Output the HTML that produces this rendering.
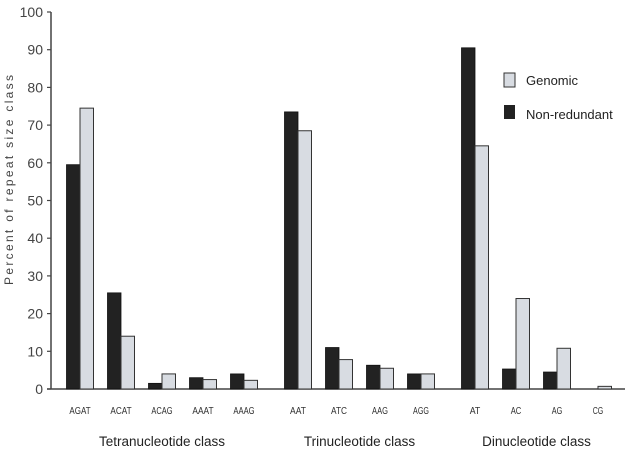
<!DOCTYPE html>
<html><head><meta charset="utf-8"><style>
body{margin:0;background:#fff;}
svg{display:block;font-family:"Liberation Sans",sans-serif;}
</style></head><body>
<svg id="chart" width="629" height="452"></svg>
<script>
const categories=["AGAT","ACAT","ACAG","AAAT","AAAG","AAT","ATC","AAG","AGG","AT","AC","AG","CG"];
const groupOf=[0,0,0,0,0,1,1,1,1,2,2,2,2];
const groupNames=["Tetranucleotide class","Trinucleotide class","Dinucleotide class"];
const nonRedundant=[59.5,25.5,1.5,3,4,73.5,11,6.3,4,90.5,5.3,4.5,0];
const genomic=[74.5,14,4,2.5,2.3,68.5,7.8,5.5,4,64.5,24,10.8,0.7];
const yTicks=[0,10,20,30,40,50,60,70,80,90,100];
const NS="http://www.w3.org/2000/svg";
const svg=document.getElementById('chart');
function y(v){return 389-v*3.77;}
function xc(i){return 80+41*i+13*groupOf[i];}
function mk(t,a,txt){const e=document.createElementNS(NS,t);for(const k in a)e.setAttribute(k,a[k]);if(txt!==undefined)e.textContent=txt;svg.appendChild(e);return e;}
let e;
e=mk('line',{x1:51,y1:y(100),x2:51,y2:y(0),stroke:'#444','stroke-width':1.5});


e=mk('line',{x1:47,y1:y(0),x2:625,y2:y(0),stroke:'#444','stroke-width':1.5});


yTicks.forEach(t=>{
 e=mk('line',{x1:47,y1:y(t),x2:51,y2:y(t),stroke:'#444','stroke-width':1.2});
 
 
 e=mk('text',{x:43,y:y(t)+5,'text-anchor':'end','font-size':14,fill:'#444'},t);
 
 
});
e=mk('text',{x:13,y:180,'text-anchor':'middle','font-size':12,fill:'#444',textLength:210,lengthAdjust:'spacing',transform:'rotate(-90 13 180)'},'Percent of repeat size class');


const bw=13.5;
categories.forEach((c,i)=>{
 const cx=xc(i);
 if(nonRedundant[i]>0){
  e=mk('rect',{x:cx-bw,y:y(nonRedundant[i]),width:bw,height:y(0)-y(nonRedundant[i]),fill:'#222',stroke:'#111','stroke-width':0.8});
  
  
 }
 e=mk('rect',{x:cx,y:y(genomic[i]),width:bw,height:y(0)-y(genomic[i]),fill:'#d8dce2',stroke:'#333','stroke-width':1});
 
 
 e=mk('text',{x:cx,y:414,'text-anchor':'middle','font-size':10,fill:'#333',textLength:c.length*5.3,lengthAdjust:'spacingAndGlyphs'},c);
 
 
});
groupNames.forEach((g,gi)=>{
 const idx=categories.map((c,i)=>i).filter(i=>groupOf[i]===gi);
 const mid=(xc(idx[0])+xc(idx[idx.length-1]))/2;
 e=mk('text',{x:mid,y:446,'text-anchor':'middle','font-size':13.5,fill:'#222'},g);
 
 
});
e=mk('rect',{x:504,y:73,width:11,height:14,fill:'#d8dce2',stroke:'#333','stroke-width':1});


e=mk('text',{x:526,y:85,'font-size':13,fill:'#222'},'Genomic');


e=mk('rect',{x:504,y:105,width:11,height:14,fill:'#222'});


e=mk('text',{x:526,y:119,'font-size':13,fill:'#222'},'Non-redundant');


</script>
</body></html>
